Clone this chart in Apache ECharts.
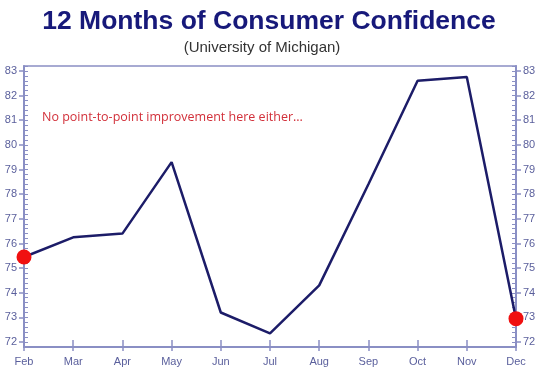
<!DOCTYPE html>
<html>
<head>
<meta charset="utf-8">
<script src="https://cdn.jsdelivr.net/npm/echarts@6/dist/echarts.min.js"></script>
<style>html,body{margin:0;padding:0;background:#fff}#c{width:550px;height:377px}</style>
</head>
<body>
<div id="c"></div>
<script>
const months = ['Feb','Mar','Apr','May','Jun','Jul','Aug','Sep','Oct','Nov','Dec'];
const confidence = [75.45, 76.25, 76.4, 79.3, 73.2, 72.35, 74.3, 78.4, 82.6, 82.75, 72.95];
const yLabels = [72,73,74,75,76,77,78,79,80,81,82,83];
const titleText = '12 Months of Consumer Confidence';
const subtitleText = '(University of Michigan)';
const noteText = 'No point-to-point improvement here either...';

const yMin = 71.8, yMax = 83.2;
const gTop = 66, gH = 281, gLeft = 24, gRight = 34;
const unit = gH / (yMax - yMin);
const g1Top = gTop + (yMax - yLabels[yLabels.length-1]) * unit;
const g1H = (yLabels[yLabels.length-1] - yLabels[0]) * unit;

const axisCol = '#8a8fc4';
const labCol = '#5a5f9c';
const lblFmt = v => (Math.abs(v - Math.round(v)) < 1e-6 && yLabels.indexOf(Math.round(v)) >= 0) ? String(Math.round(v)) : '';

const chart = echarts.init(document.getElementById('c'), null, {renderer: 'canvas'});
chart.setOption({
  backgroundColor: '#fff',
  animation: false,
  graphic: [
    {type: 'text', x: 269, y: 22, style: {text: titleText, fill: '#17197a', font: 'bold 26.5px "Liberation Sans", Arial, sans-serif', textAlign: 'center', textVerticalAlign: 'middle'}},
    {type: 'text', x: 262, y: 48, style: {text: subtitleText, fill: '#333', font: '15px "Liberation Sans", Arial, sans-serif', textAlign: 'center', textVerticalAlign: 'middle'}},
    {type: 'text', x: 42, y: 117, z: 10, style: {text: noteText, fill: '#d2303a', font: '12.5px "Open Sans", sans-serif', textAlign: 'left', textVerticalAlign: 'middle'}}
  ],
  grid: [
    {left: gLeft, right: gRight, top: gTop, height: gH, show: true, borderColor: axisCol, borderWidth: 1.5, backgroundColor: 'transparent'},
    {left: gLeft, right: gRight, top: g1Top, height: g1H, show: false}
  ],
  xAxis: [
    {type: 'category', gridIndex: 0, data: months, boundaryGap: false,
     axisLine: {lineStyle: {color: axisCol, width: 2}},
     axisTick: {inside: true, length: 7, lineStyle: {color: axisCol, width: 1.5}},
     axisLabel: {color: labCol, fontSize: 11, margin: 9, fontFamily: 'Liberation Sans', interval: 0},
     splitLine: {show: false}},
    {type: 'category', gridIndex: 1, data: months, boundaryGap: false, position: 'bottom', offset: (gTop + gH) - (g1Top + g1H),
     axisLine: {show: false},
     axisTick: {inside: false, length: 4, lineStyle: {color: axisCol, width: 1.5}},
     axisLabel: {show: false}, splitLine: {show: false}}
  ],
  yAxis: [
    {type: 'value', gridIndex: 0, position: 'left', min: yMin, max: yMax, interval: 0.2,
     axisLine: {show: true, lineStyle: {color: axisCol, width: 2}},
     axisTick: {show: true, inside: true, length: 4, lineStyle: {color: axisCol, width: 1}},
     axisLabel: {show: true, formatter: lblFmt, interval: 0, color: labCol, fontSize: 11, margin: 7, fontFamily: 'Liberation Sans', hideOverlap: false},
     splitLine: {show: false}},
    {type: 'value', gridIndex: 0, position: 'right', min: yMin, max: yMax, interval: 0.2,
     axisLine: {show: true, lineStyle: {color: axisCol, width: 2}},
     axisTick: {show: true, inside: true, length: 4, lineStyle: {color: axisCol, width: 1}},
     axisLabel: {show: true, formatter: lblFmt, interval: 0, color: labCol, fontSize: 11, margin: 7, fontFamily: 'Liberation Sans', hideOverlap: false},
     splitLine: {show: false}},
    {type: 'value', gridIndex: 1, position: 'left', min: yLabels[0], max: yLabels[yLabels.length-1], interval: 1,
     axisLine: {show: false}, axisTick: {show: true, inside: false, length: 5, lineStyle: {color: axisCol, width: 1.5}},
     axisLabel: {show: false}, splitLine: {show: false}},
    {type: 'value', gridIndex: 1, position: 'right', min: yLabels[0], max: yLabels[yLabels.length-1], interval: 1,
     axisLine: {show: false}, axisTick: {show: true, inside: false, length: 5, lineStyle: {color: axisCol, width: 1.5}},
     axisLabel: {show: false}, splitLine: {show: false}}
  ],
  series: [
    {type: 'line', xAxisIndex: 0, yAxisIndex: 0, data: confidence, clip: false, z: 5,
     lineStyle: {color: '#1c1c68', width: 2.5},
     showAllSymbol: true, symbol: 'circle',
     symbolSize: (v, p) => (p.dataIndex === 0 || p.dataIndex === confidence.length - 1) ? 15 : 0,
     itemStyle: {color: '#f01010', borderWidth: 0}}
  ]
});
</script>
</body>
</html>
